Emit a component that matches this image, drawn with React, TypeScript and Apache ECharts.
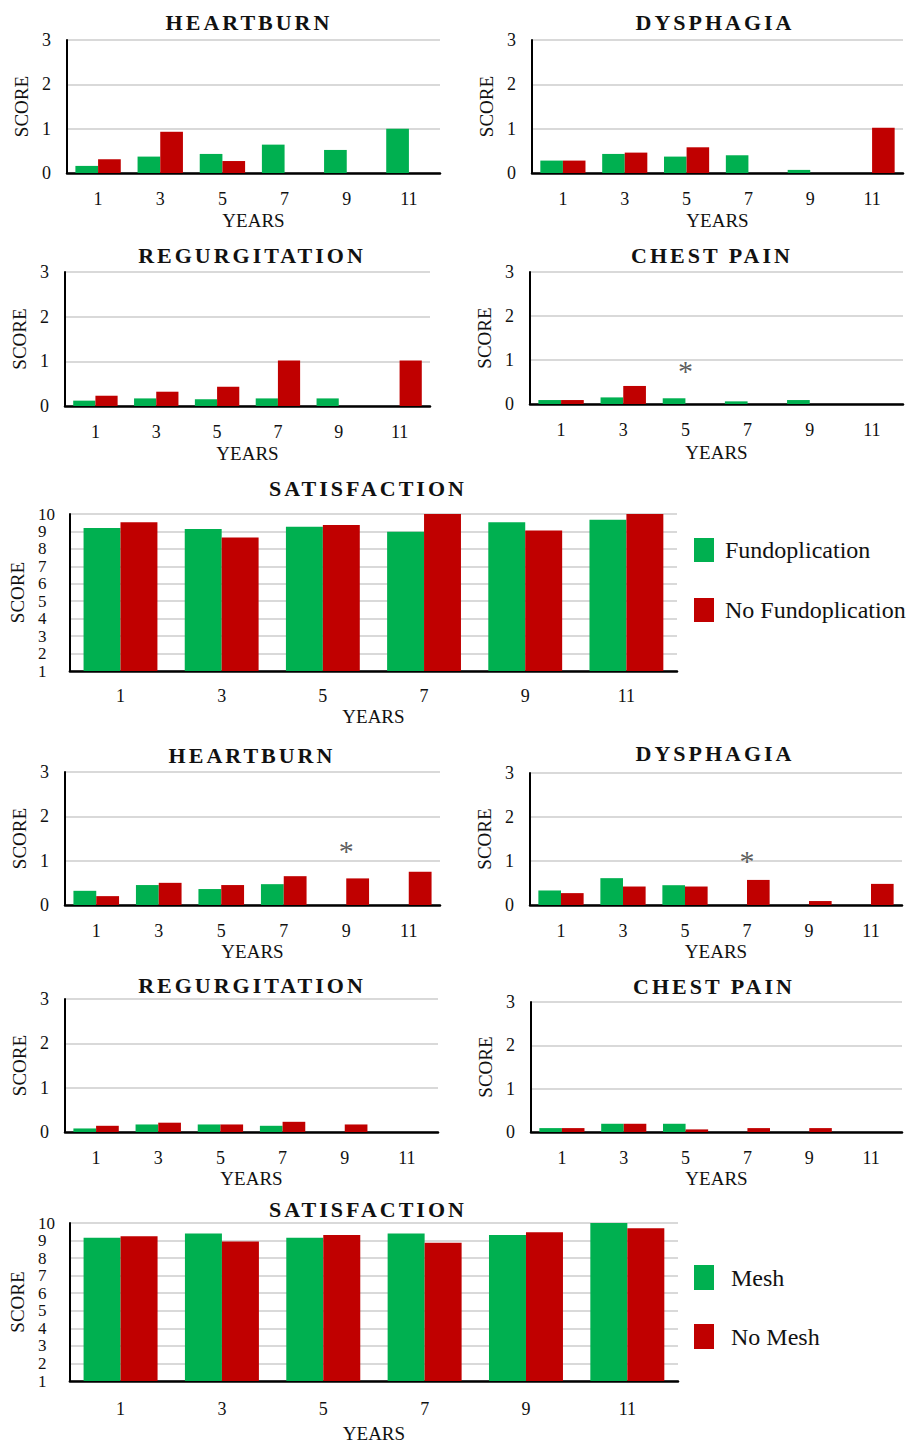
import React, { useEffect, useRef } from 'react';
import * as echarts from 'echarts';

// ---------- DATA ----------
const years = ['1', '3', '5', '7', '9', '11'];
const symptomTickMax = 3;
const satisfactionTickMin = 1;
const satisfactionTickMax = 10;

// Fundoplication vs No Fundoplication
const fundHeartburn = [0.16, 0.37, 0.43, 0.64, 0.52, 1.0];
const noFundHeartburn = [0.31, 0.93, 0.27, null, null, null];
const fundDysphagia = [0.28, 0.43, 0.37, 0.4, 0.07, null];
const noFundDysphagia = [0.28, 0.46, 0.58, null, null, 1.02];
const fundRegurgitation = [0.12, 0.17, 0.15, 0.17, 0.17, null];
const noFundRegurgitation = [0.23, 0.32, 0.43, 1.02, null, 1.02];
const fundChestPain = [0.09, 0.15, 0.13, 0.06, 0.09, null];
const noFundChestPain = [0.09, 0.41, null, null, null, null];
const fundSatisfaction = [9.2, 9.14, 9.27, 8.98, 9.52, 9.67];
const noFundSatisfaction = [9.52, 8.66, 9.37, 10.0, 9.06, 10.0];

// Mesh vs No Mesh
const meshHeartburn = [0.32, 0.45, 0.36, 0.47, null, null];
const noMeshHeartburn = [0.2, 0.5, 0.45, 0.65, 0.6, 0.75];
const meshDysphagia = [0.33, 0.61, 0.45, null, null, null];
const noMeshDysphagia = [0.27, 0.42, 0.42, 0.57, 0.09, 0.48];
const meshRegurgitation = [0.08, 0.17, 0.17, 0.14, null, null];
const noMeshRegurgitation = [0.14, 0.21, 0.17, 0.23, 0.17, null];
const meshChestPain = [0.09, 0.19, 0.19, null, null, null];
const noMeshChestPain = [0.09, 0.19, 0.06, 0.09, 0.09, null];
const meshSatisfaction = [9.16, 9.4, 9.16, 9.4, 9.32, 10.0];
const noMeshSatisfaction = [9.25, 8.95, 9.32, 8.87, 9.47, 9.7];

// significance marks (*): panel index, year, height
const sigPanels = [3, 5, 6];
const sigYears = ['5', '9', '7'];
const sigValues = [0.76, 1.22, 1.01];

const groupNames = [
  ['Fundoplication', 'No Fundoplication'],
  ['Mesh', 'No Mesh'],
];

// ---------- STYLE / LAYOUT ----------
const GREEN = '#00B050';
const RED = '#C00000';
const FONT = '"Liberation Serif", "Times New Roman", serif';

type Panel = {
  title: string;
  tx: number;
  ty: number;
  g: [number, number, number, number];
  a: (number | null)[];
  b: (number | null)[];
  grp: number;
  sat?: boolean;
  labelMargin: number;
  nameGap: number;
};

const panels: Panel[] = [
  { title: 'HEARTBURN', tx: 249, ty: 23, g: [67, 40, 440, 173], a: fundHeartburn, b: noFundHeartburn, grp: 0, labelMargin: 17, nameGap: 38 },
  { title: 'DYSPHAGIA', tx: 715, ty: 23, g: [532, 40, 903, 173], a: fundDysphagia, b: noFundDysphagia, grp: 0, labelMargin: 17, nameGap: 38 },
  { title: 'REGURGITATION', tx: 252, ty: 256, g: [65, 272, 430, 406], a: fundRegurgitation, b: noFundRegurgitation, grp: 0, labelMargin: 17, nameGap: 38 },
  { title: 'CHEST PAIN', tx: 712, ty: 256, g: [530, 272, 903, 404], a: fundChestPain, b: noFundChestPain, grp: 0, labelMargin: 17, nameGap: 39 },
  { title: 'SATISFACTION', tx: 368, ty: 489, g: [67, 514, 677, 671], a: fundSatisfaction, b: noFundSatisfaction, grp: 0, sat: true, labelMargin: 16, nameGap: 36 },
  { title: 'HEARTBURN', tx: 252, ty: 756, g: [65, 772, 440, 905], a: meshHeartburn, b: noMeshHeartburn, grp: 1, labelMargin: 17, nameGap: 37 },
  { title: 'DYSPHAGIA', tx: 715, ty: 754, g: [530, 773, 902, 905], a: meshDysphagia, b: noMeshDysphagia, grp: 1, labelMargin: 17, nameGap: 37 },
  { title: 'REGURGITATION', tx: 252, ty: 986, g: [65, 999, 438, 1132], a: meshRegurgitation, b: noMeshRegurgitation, grp: 1, labelMargin: 17, nameGap: 37 },
  { title: 'CHEST PAIN', tx: 714, ty: 987, g: [531, 1002, 902, 1132], a: meshChestPain, b: noMeshChestPain, grp: 1, labelMargin: 17, nameGap: 37 },
  { title: 'SATISFACTION', tx: 368, ty: 1210, g: [66, 1223, 678, 1383], a: meshSatisfaction, b: noMeshSatisfaction, grp: 1, sat: true, labelMargin: 19, nameGap: 43 },
];

function buildOption() {
  const titles = panels.map((p) => ({
    text: p.title,
    left: p.tx,
    top: p.ty - 12,
    textAlign: 'center',
    padding: 0,
    textStyle: { fontFamily: FONT, fontWeight: 'bold', fontSize: 22, color: '#111' },
  }));

  const grids = panels.map((p) => ({
    left: p.g[0],
    top: p.g[1],
    width: p.g[2] - p.g[0],
    height: p.g[3] - p.g[1],
    containLabel: false,
  }));

  const xAxes = panels.map((p, i) => ({
    type: 'category',
    gridIndex: i,
    data: years,
    axisLine: { show: true, lineStyle: { color: '#000', width: 2.5 } },
    axisTick: { show: false },
    axisLabel: { fontFamily: FONT, fontSize: 18, color: '#111', margin: p.labelMargin },
    name: 'YEARS',
    nameLocation: 'middle',
    nameGap: p.nameGap,
    nameTextStyle: { fontFamily: FONT, fontSize: 19, color: '#111' },
  }));

  const yAxes = panels.map((p, i) => ({
    type: 'value',
    gridIndex: i,
    min: p.sat ? satisfactionTickMin : 0,
    max: p.sat ? satisfactionTickMax : symptomTickMax,
    interval: 1,
    axisLine: { show: true, lineStyle: { color: '#000', width: 2 } },
    axisTick: { show: false },
    splitLine: { show: true, lineStyle: { color: '#d9d9d9', width: 2 } },
    axisLabel: p.sat
      ? { fontFamily: FONT, fontSize: 17, color: '#111', margin: 32, align: 'left' }
      : { fontFamily: FONT, fontSize: 18, color: '#111', margin: 16 },
    name: 'SCORE',
    nameLocation: 'middle',
    nameRotate: 90,
    nameGap: p.sat ? 34 : 36,
    nameTextStyle: { fontFamily: FONT, fontSize: 19, color: '#111' },
  }));

  const series: any[] = [];
  panels.forEach((p, i) => {
    const names = groupNames[p.grp];
    series.push({
      type: 'bar',
      name: names[0],
      xAxisIndex: i,
      yAxisIndex: i,
      data: p.a,
      itemStyle: { color: GREEN },
      barGap: '0%',
      barCategoryGap: '27%',
      clip: true,
    });
    series.push({
      type: 'bar',
      name: names[1],
      xAxisIndex: i,
      yAxisIndex: i,
      data: p.b,
      itemStyle: { color: RED },
      barGap: '0%',
      barCategoryGap: '27%',
      clip: true,
    });
    const marks = sigPanels
      .map((pi, k) => (pi === i ? [sigYears[k], sigValues[k]] : null))
      .filter(Boolean);
    if (marks.length) {
      series.push({
        type: 'scatter',
        name: 'significance',
        xAxisIndex: i,
        yAxisIndex: i,
        data: marks,
        symbol: 'circle',
        symbolSize: 1,
        itemStyle: { color: 'rgba(0,0,0,0)' },
        silent: true,
        label: {
          show: true,
          formatter: '*',
          position: 'inside',
          fontFamily: FONT,
          fontSize: 30,
          color: '#333',
        },
      });
    }
  });

  const legendCommon = {
    orient: 'vertical',
    left: 694,
    padding: 0,
    itemWidth: 20,
    icon: 'rect',
    selectedMode: false,
  };

  return {
    animation: false,
    backgroundColor: '#fff',
    title: titles,
    grid: grids,
    xAxis: xAxes,
    yAxis: yAxes,
    series,
    legend: [
      {
        ...legendCommon,
        top: 538,
        itemHeight: 24,
        itemGap: 36,
        data: groupNames[0],
        textStyle: { fontFamily: FONT, fontSize: 24, color: '#111', padding: [0, 0, 0, 6] },
      },
      {
        ...legendCommon,
        top: 1265,
        itemHeight: 25,
        itemGap: 34,
        data: groupNames[1],
        textStyle: { fontFamily: FONT, fontSize: 24, color: '#111', padding: [0, 0, 0, 12] },
      },
    ],
  };
}

export default function App() {
  const ref = useRef<HTMLDivElement>(null);
  useEffect(() => {
    const chart = echarts.init(ref.current!, null, { renderer: 'svg' });
    chart.setOption(buildOption() as any);
    return () => chart.dispose();
  }, []);
  return (
    <>
      <style>{`#chart-root svg text[style*="bold"] { letter-spacing: 3px; }`}</style>
      <div
        id="chart-root"
        ref={ref}
        style={{ position: 'absolute', left: 0, top: 0, width: 912, height: 1444, background: '#fff' }}
      />
    </>
  );
}
